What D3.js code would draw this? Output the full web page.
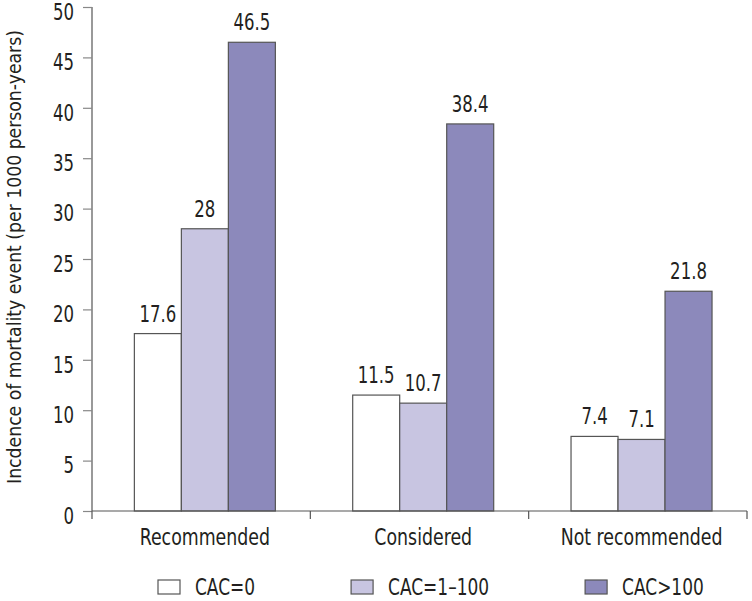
<!DOCTYPE html>
<html><head><meta charset="utf-8">
<script src="https://cdn.jsdelivr.net/npm/d3@7"></script>
<style>
body{margin:0;background:#fff;}
text{font-family:"Liberation Sans Narrow","Arial Narrow","DejaVu Sans Condensed",sans-serif;fill:#231f20;}
</style></head>
<body><svg id="c" width="752" height="601"></svg>
<script>
const categories = ["Recommended","Considered","Not recommended"];
const series = ["CAC=0","CAC=1\u2013100","CAC>100"];
const cac0 = [17.6, 11.5, 7.4];
const cac1_100 = [28, 10.7, 7.1];
const cac100 = [46.5, 38.4, 21.8];
const valueLabels = [["17.6","28","46.5"],["11.5","10.7","38.4"],["7.4","7.1","21.8"]];
const yTicks = [0,5,10,15,20,25,30,35,40,45,50];
const yLabel = "Incdence of mortality event (per 1000 person-years)";
const colors = ["#ffffff","#c8c5e1","#8c89bb"];

const SX = 0.84; // horizontal condensing to mimic the narrow typeface
const svg = d3.select("#c");
const x0 = d3.scaleBand().domain(categories).range([92,747]).paddingInner(0).paddingOuter(0);
const x1 = d3.scaleBand().domain(series).range([0,141]);
const y = d3.scaleLinear().domain([0,50]).range([511,7]);
const groupOffset = (x0.bandwidth()-141)/2 + 3.7;

const data = categories.map((c,i)=>({cat:c, vals:[cac0[i],cac1_100[i],cac100[i]], labels:valueLabels[i]}));

function narrowText(sel, x, y, sx){
  sel.attr("transform", (d,i)=>`translate(${typeof x==="function"?x(d,i):x},${typeof y==="function"?y(d,i):y}) scale(${sx},1)`)
     .attr("x",0).attr("y",0);
}

// y axis
const yAxis = d3.axisLeft(y).tickValues(yTicks).tickSize(9).tickPadding(8);
const gy = svg.append("g").attr("transform","translate(92,0)").call(yAxis);
gy.select(".domain").attr("stroke","#555").attr("stroke-width",1.2).attr("d","M0,7V511");
gy.selectAll(".tick line").attr("stroke","#888").attr("stroke-width",1.2);
gy.selectAll(".tick text").style("font-size","23px").attr("fill","#231f20").attr("dy","0.36em")
  .attr("transform","translate(-18,4) scale(0.8,1)").attr("x",0).attr("y",0);

// bars
const groups = svg.append("g").selectAll("g").data(data).join("g")
  .attr("transform",d=>`translate(${x0(d.cat)+groupOffset},0)`);
groups.selectAll("rect").data(d=>d.vals.map((v,j)=>({v,j,s:series[j]}))).join("rect")
  .attr("x",d=>x1(d.s)).attr("width",x1.bandwidth())
  .attr("y",d=>y(d.v)).attr("height",d=>y(0)-y(d.v))
  .attr("fill",d=>colors[d.j]).attr("stroke","#555").attr("stroke-width",1.2);
groups.selectAll("text.val").data(d=>d.vals.map((v,j)=>({v,j,s:series[j],l:d.labels[j]}))).join("text")
  .attr("class","val").attr("text-anchor","middle").style("font-size","23px").text(d=>d.l)
  .call(narrowText, d=>x1(d.s)+x1.bandwidth()/2, d=>y(d.v)-12, 0.8);

// x axis
const xAxis = d3.axisBottom(x0).tickSize(0).tickPadding(0).tickFormat("");
const gx = svg.append("g").attr("transform","translate(0,511)").call(xAxis);
gx.select(".domain").attr("stroke","#555").attr("stroke-width",1.2).attr("d","M92,0H747");
const seps = [x0.range()[0]].concat(categories.map(c=>x0(c)+x0.bandwidth()));
gx.selectAll("line.sep").data(seps).join("line").attr("class","sep")
  .attr("x1",d=>d).attr("x2",d=>d).attr("y1",0).attr("y2",8).attr("stroke","#555").attr("stroke-width",1.2);
gx.selectAll("text.cat").data(categories).join("text").attr("class","cat")
  .attr("text-anchor","middle").style("font-size","23px").text(d=>d)
  .call(narrowText, d=>x0(d)+groupOffset+70.5, 34, SX);

// y label (condensed to span the same length as the reference label)
const yl = svg.append("text").attr("text-anchor","middle").style("font-size","20px").text(yLabel);
const ylScale = 454 / yl.node().getComputedTextLength();
yl.attr("transform",`translate(21,257) rotate(-90) scale(${ylScale},1)`);

// legend
const lg = svg.append("g").attr("transform","translate(158,580)");
let lx = 0;
series.forEach((s,j)=>{
  const g = lg.append("g").attr("transform",`translate(${lx},0)`);
  g.append("rect").attr("width",22).attr("height",14).attr("fill",colors[j]).attr("stroke","#555").attr("stroke-width",1.2);
  const t = g.append("text").style("font-size","22.5px").text(s)
    .attr("transform",`translate(37,15) scale(${SX},1)`);
  lx += 37 + t.node().getComputedTextLength()*SX + 96;
});
</script></body></html>
